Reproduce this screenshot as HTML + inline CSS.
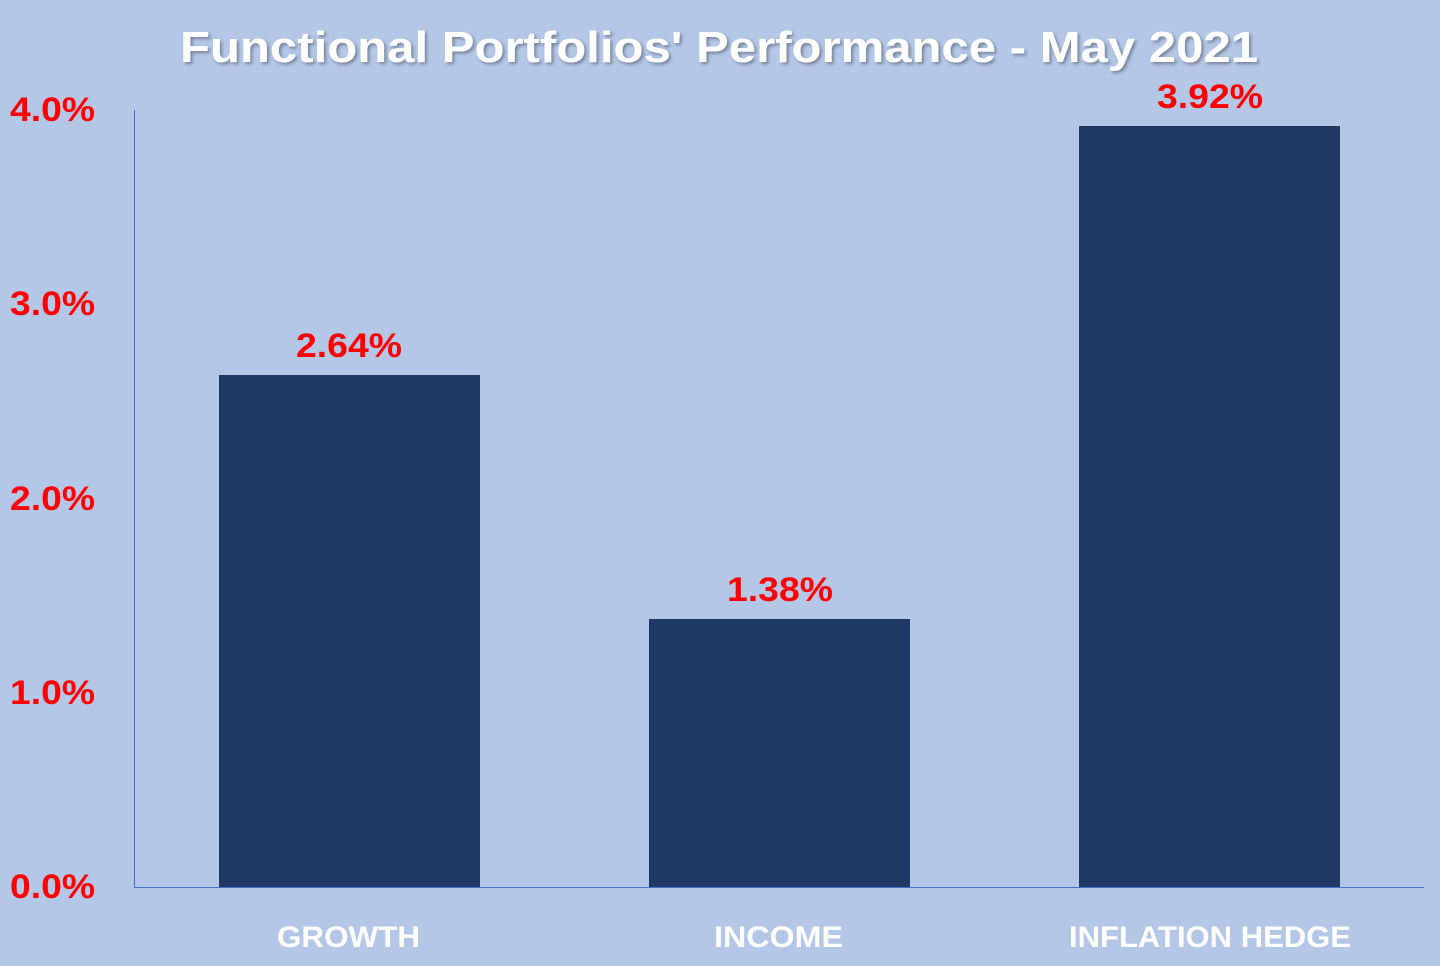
<!DOCTYPE html>
<html><head><style>html,body{margin:0;padding:0;background:#b4c7e7;}</style></head>
<body>
<svg width="1440" height="966" xmlns="http://www.w3.org/2000/svg" style="display:block;font-family:'Liberation Sans',sans-serif;font-weight:bold">
<defs><filter id="sh" x="-5%" y="-20%" width="110%" height="150%"><feDropShadow dx="2" dy="2" stdDeviation="1.5" flood-color="#000" flood-opacity="0.35"/></filter></defs>
<rect width="1440" height="966" fill="#b4c7e7"/>
<text x="180" y="62" font-size="44" fill="#fff" filter="url(#sh)" textLength="1078" lengthAdjust="spacingAndGlyphs">Functional  Portfolios'  Performance  -  May  2021</text>
<line x1="134.5" y1="110" x2="134.5" y2="887" stroke="#4472c4" stroke-width="1"/>
<line x1="134" y1="887.5" x2="1424" y2="887.5" stroke="#4472c4" stroke-width="1"/>
<g fill="#ff0000" font-size="34">
<text x="10" y="121" textLength="85" lengthAdjust="spacingAndGlyphs">4.0%</text>
<text x="10" y="315" textLength="85" lengthAdjust="spacingAndGlyphs">3.0%</text>
<text x="10" y="510" textLength="85" lengthAdjust="spacingAndGlyphs">2.0%</text>
<text x="10" y="704" textLength="85" lengthAdjust="spacingAndGlyphs">1.0%</text>
<text x="10" y="898" textLength="85" lengthAdjust="spacingAndGlyphs">0.0%</text>
<text x="296" y="357" textLength="106" lengthAdjust="spacingAndGlyphs">2.64%</text>
<text x="727" y="601" textLength="106" lengthAdjust="spacingAndGlyphs">1.38%</text>
<text x="1157" y="108" textLength="106" lengthAdjust="spacingAndGlyphs">3.92%</text>
</g>
<g fill="#1f3864">
<rect x="219" y="375" width="261" height="512"/>
<rect x="649" y="619" width="261" height="268"/>
<rect x="1079" y="126" width="261" height="761"/>
</g>
<g fill="#fff" font-size="30">
<text x="277" y="947" textLength="143" lengthAdjust="spacingAndGlyphs">GROWTH</text>
<text x="714" y="947" textLength="129" lengthAdjust="spacingAndGlyphs">INCOME</text>
<text x="1069" y="947" textLength="282" lengthAdjust="spacingAndGlyphs">INFLATION HEDGE</text>
</g>
</svg>
</body></html>
